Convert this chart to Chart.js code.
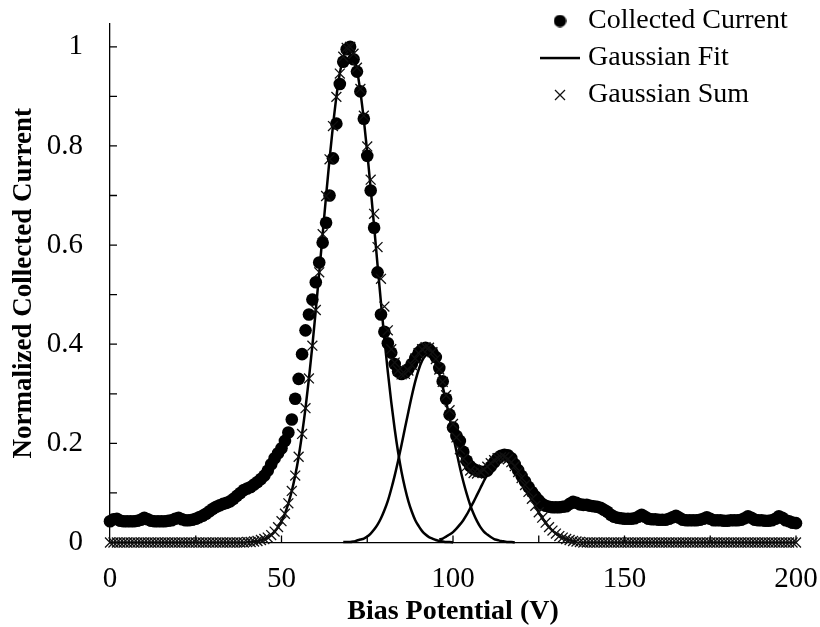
<!DOCTYPE html>
<html>
<head>
<meta charset="utf-8">
<script src="https://cdn.jsdelivr.net/npm/chart.js@4.4.1/dist/chart.umd.min.js"></script>
<style>
  html, body { margin: 0; padding: 0; background: #fff; }
  #wrap { width: 820px; height: 627px; position: relative; }
</style>
</head>
<body>
<div id="wrap"><canvas id="c" width="820" height="627"></canvas></div>
<script>
// ---------------- data ----------------
const SERIES_NAMES = ['Collected Current', 'Gaussian Fit', 'Gaussian Sum'];

// bias potential grid (V), one sample per volt, 0..200
const BIAS_FIRST = 0;
const BIAS_LAST = 200;

// Normalized collected current (dots), x = 0..200
const COLLECTED = [
  0.043,0.047,0.048,0.044,0.043,0.043,0.043,0.043,0.044,0.046,
  0.050,0.047,0.044,0.043,0.043,0.043,0.043,0.044,0.045,0.048,
  0.050,0.047,0.045,0.045,0.046,0.048,0.051,0.054,0.058,0.063,
  0.068,0.072,0.075,0.078,0.080,0.083,0.088,0.094,0.100,0.106,
  0.109,0.112,0.117,0.122,0.128,0.135,0.145,0.158,0.170,0.180,
  0.190,0.205,0.222,0.248,0.290,0.330,0.380,0.428,0.460,0.490,
  0.525,0.565,0.605,0.645,0.700,0.775,0.845,0.925,0.970,0.995,
  1.000,0.975,0.950,0.910,0.855,0.780,0.710,0.635,0.545,0.460,
  0.425,0.402,0.383,0.360,0.345,0.340,0.343,0.350,0.360,0.372,
  0.383,0.390,0.393,0.390,0.383,0.374,0.352,0.325,0.290,0.258,
  0.232,0.215,0.205,0.183,0.165,0.154,0.148,0.145,0.143,0.142,
  0.145,0.153,0.162,0.170,0.175,0.177,0.176,0.170,0.158,0.146,
  0.134,0.123,0.112,0.102,0.093,0.085,0.078,0.074,0.072,0.071,
  0.071,0.071,0.072,0.073,0.078,0.082,0.080,0.077,0.076,0.076,
  0.074,0.073,0.072,0.070,0.066,0.062,0.056,0.052,0.050,0.049,
  0.048,0.048,0.048,0.049,0.052,0.056,0.052,0.048,0.047,0.047,
  0.046,0.046,0.046,0.048,0.051,0.054,0.050,0.046,0.045,0.045,
  0.045,0.045,0.046,0.048,0.051,0.048,0.045,0.045,0.045,0.044,
  0.044,0.045,0.045,0.045,0.046,0.049,0.053,0.050,0.046,0.045,
  0.045,0.044,0.044,0.045,0.048,0.053,0.050,0.045,0.043,0.040,
  0.039
];

// Gaussian sum (x markers), x = 0..200
const GAUSS_SUM = [
  0,0,0,0,0,0,0,0,0,0,
  0,0,0,0,0,0,0,0,0,0,
  0,0,0,0,0,0,0,0,0,0,
  0,0,0,0,0,0,0,0,0,0,
  0.001,0.001,0.002,0.003,0.005,0.007,0.010,0.015,0.022,0.031,
  0.043,0.058,0.079,0.104,0.135,0.173,0.219,0.271,0.331,0.397,
  0.469,0.545,0.622,0.699,0.773,0.840,0.899,0.946,0.980,0.998,
  1.000,0.986,0.958,0.915,0.861,0.799,0.732,0.663,0.596,0.532,
  0.476,0.428,0.390,0.363,0.347,0.339,0.340,0.347,0.358,0.371,
  0.382,0.390,0.394,0.393,0.384,0.370,0.349,0.324,0.297,0.267,
  0.239,0.212,0.188,0.169,0.154,0.145,0.140,0.139,0.142,0.147,
  0.153,0.160,0.166,0.170,0.172,0.172,0.168,0.162,0.154,0.142,
  0.130,0.116,0.102,0.088,0.074,0.061,0.050,0.040,0.031,0.024,
  0.018,0.013,0.010,0.007,0.005,0.003,0.002,0.001,0,0,
  0,0,0,0,0,0,0,0,0,0,
  0,0,0,0,0,0,0,0,0,0,
  0,0,0,0,0,0,0,0,0,0,
  0,0,0,0,0,0,0,0,0,0,
  0,0,0,0,0,0,0,0,0,0,
  0,0,0,0,0,0,0,0,0,0,
  0
];

// Individual Gaussian fit curves (solid lines)
const FIT1_START = 40;   // x = 40..100
const FIT1 = [
  0.001,0.001,0.002,0.003,0.005,0.007,0.010,0.015,0.022,0.031,
  0.043,0.058,0.079,0.104,0.135,0.173,0.219,0.271,0.331,0.397,
  0.469,0.545,0.622,0.699,0.773,0.840,0.899,0.946,0.979,0.997,
  0.999,0.984,0.954,0.909,0.853,0.787,0.714,0.638,0.560,0.484,
  0.411,0.344,0.283,0.229,0.182,0.142,0.110,0.083,0.062,0.045,
  0.033,0.023,0.016,0.011,0.008,0.005,0.003,0.002,0.001,0.001,0.000
];
const FIT2_START = 68;   // x = 68..118
const FIT2 = [
  0.001,0.001,0.001,0.002,0.004,0.006,0.008,0.012,0.018,0.026,
  0.036,0.049,0.065,0.084,0.108,0.135,0.165,0.197,0.231,0.264,
  0.296,0.325,0.349,0.367,0.377,0.380,0.374,0.361,0.340,0.314,
  0.284,0.251,0.217,0.184,0.152,0.123,0.098,0.076,0.058,0.043,
  0.031,0.022,0.016,0.011,0.007,0.005,0.003,0.002,0.001,0.001,0.000
];
const FIT3_START = 96;   // x = 96..136
const FIT3 = [
  0.006,0.008,0.012,0.016,0.021,0.028,0.036,0.045,0.056,0.069,
  0.082,0.096,0.110,0.124,0.137,0.149,0.159,0.165,0.169,0.170,
  0.167,0.162,0.153,0.142,0.130,0.116,0.102,0.088,0.074,0.061,
  0.050,0.040,0.031,0.024,0.018,0.013,0.010,0.007,0.005,0.003,0.002
];

// Axis ticks
const X_TICKS = [0, 50, 100, 150, 200];
const X_MINOR = [25, 50, 75, 100, 125, 150, 175, 200];
const Y_TICKS = [0, 0.2, 0.4, 0.6, 0.8, 1];
const Y_TICK_LABELS = ['0', '0.2', '0.4', '0.6', '0.8', '1'];
const Y_MINOR = [0.1, 0.2, 0.3, 0.4, 0.5, 0.6, 0.7, 0.8, 0.9, 1.0];
const X_TITLE = 'Bias Potential (V)';
const Y_TITLE = 'Normalized Collected Current';

// ---------------- helpers ----------------
function toPoints(start, ys) {
  return ys.map((v, i) => ({ x: start + i, y: v }));
}
const SERIF = "'Liberation Serif', 'Times New Roman', Times, serif";

function makeIcon(w, h, draw) {
  const c = document.createElement('canvas');
  c.width = w; c.height = h;
  const g = c.getContext('2d');
  draw(g, w, h);
  return c;
}
const ICON_DOT = makeIcon(13, 13, (g) => { g.fillStyle = '#000'; g.beginPath(); g.arc(6.5, 6.5, 6.2, 0, Math.PI * 2); g.fill(); });
const ICON_LINE = makeIcon(40, 4, (g) => { g.fillStyle = '#000'; g.fillRect(0, 0.8, 40, 2.5); });
const ICON_CROSS = makeIcon(12, 12, (g) => { g.strokeStyle = '#111'; g.lineWidth = 1.3; g.beginPath(); g.moveTo(1, 1); g.lineTo(11, 11); g.moveTo(11, 1); g.lineTo(1, 11); g.stroke(); });
const LEGEND_ICONS = [ICON_DOT, ICON_LINE, ICON_CROSS];

const innerTicks = {
  id: 'innerTicks',
  beforeDatasetsDraw(chart) {
    const { ctx, chartArea: a } = chart;
    const xs = chart.scales.x, ys = chart.scales.y;
    ctx.save();
    ctx.strokeStyle = '#000';
    ctx.lineWidth = 1.3;
    ctx.beginPath();
    Y_MINOR.forEach(v => {
      const py = ys.getPixelForValue(v);
      ctx.moveTo(a.left, py); ctx.lineTo(a.left + 7, py);
    });
    X_MINOR.forEach(v => {
      const px = xs.getPixelForValue(v);
      ctx.moveTo(px, a.bottom); ctx.lineTo(px, a.bottom - 7);
    });
    ctx.stroke();
    ctx.restore();
  }
};

const legendPlacer = {
  id: 'legendPlacer',
  afterLayout(chart) {
    const L = chart.legend;
    if (!L) return;
    const w = L.width, h = L.height;
    L.left = 537; L.top = -2;
    L.right = L.left + w; L.bottom = L.top + h;
  }
};

function zeroPadding(s) {
  s.paddingTop = 0; s.paddingBottom = 0; s.paddingLeft = 0; s.paddingRight = 0;
}

const lineCommon = {
  showLine: true, pointRadius: 0, pointHoverRadius: 0,
  borderColor: '#000', borderWidth: 2.5, backgroundColor: '#000',
  cubicInterpolationMode: 'monotone', order: 2, clip: false
};

new Chart(document.getElementById('c'), {
  type: 'scatter',
  data: {
    datasets: [
      { label: SERIES_NAMES[0], data: toPoints(BIAS_FIRST, COLLECTED), showLine: false,
        pointStyle: 'circle', pointRadius: 6.3, pointHoverRadius: 6.3,
        pointBackgroundColor: '#000', pointBorderColor: '#000', pointBorderWidth: 0, order: 3, clip: false },
      Object.assign({ label: SERIES_NAMES[1], data: toPoints(FIT1_START, FIT1) }, lineCommon),
      { label: SERIES_NAMES[2], data: toPoints(BIAS_FIRST, GAUSS_SUM), showLine: false,
        pointStyle: 'crossRot', pointRadius: 7, pointHoverRadius: 7,
        pointBorderColor: '#111', pointBackgroundColor: '#111', pointBorderWidth: 1.3, order: 1, clip: false },
      Object.assign({ label: SERIES_NAMES[1], data: toPoints(FIT2_START, FIT2) }, lineCommon),
      Object.assign({ label: SERIES_NAMES[1], data: toPoints(FIT3_START, FIT3) }, lineCommon)
    ]
  },
  options: {
    responsive: false,
    animation: false,
    devicePixelRatio: 1,
    layout: { padding: { left: 0, right: 24, top: 24, bottom: 0 } },
    plugins: {
      tooltip: { enabled: false },
      legend: {
        position: 'chartArea',
        align: 'start',
        labels: {
          usePointStyle: true,
          boxWidth: 28,
          padding: 9,
          color: '#000',
          font: { family: SERIF, size: 28 },
          generateLabels: (chart) => chart.data.datasets.slice(0, 3).map((ds, i) => ({
            text: ds.label, datasetIndex: i, pointStyle: LEGEND_ICONS[i],
            fontColor: '#000', hidden: false, lineWidth: 0,
            strokeStyle: 'rgba(0,0,0,0)', fillStyle: 'rgba(0,0,0,0)'
          }))
        }
      }
    },
    scales: {
      x: {
        type: 'linear', min: BIAS_FIRST, max: BIAS_LAST,
        afterBuildTicks: (s) => { s.ticks = X_TICKS.map(v => ({ value: v })); },
        afterFit: (s) => { s.height = 84.5; zeroPadding(s); },
        grid: { display: false, drawTicks: false },
        border: { display: true, color: '#000', width: 1.3 },
        ticks: { color: '#000', padding: 19, font: { family: SERIF, size: 29 }, maxRotation: 0,
                 callback: (v) => String(v) },
        title: { display: true, text: X_TITLE, color: '#000',
                 font: { family: SERIF, size: 28, weight: 'bold' }, padding: { top: 0, bottom: -2 } }
      },
      y: {
        type: 'linear', min: 0, max: 1.046,
        afterBuildTicks: (s) => { s.ticks = Y_TICKS.map(v => ({ value: v })); },
        afterFit: (s) => { s.width = 110; zeroPadding(s); },
        grid: { display: false, drawTicks: false },
        border: { display: true, color: '#000', width: 1.3 },
        ticks: { color: '#000', padding: 27, font: { family: SERIF, size: 29 },
                 callback: (v, i) => Y_TICK_LABELS[i] },
        title: { display: true, text: Y_TITLE, color: '#000',
                 font: { family: SERIF, size: 27, weight: 'bold' }, padding: { top: 8, bottom: 0 } }
      }
    }
  },
  plugins: [innerTicks, legendPlacer]
});
</script>
</body>
</html>
